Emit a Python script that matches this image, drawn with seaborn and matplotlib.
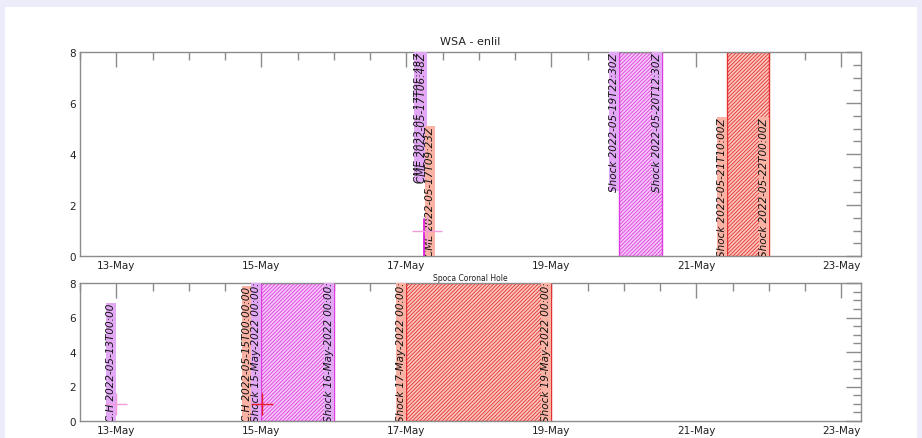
import matplotlib
matplotlib.use("Agg")
import matplotlib.pyplot as plt
import matplotlib.dates as mdates
from matplotlib.patches import Rectangle
from matplotlib.ticker import MultipleLocator
from matplotlib.transforms import ScaledTranslation
import pandas as pd
import seaborn as sns

# ---------------- data ----------------
top_title = "WSA - enlil"
bottom_title = "Spoca Coronal Hole"

x_start = "2022-05-12T12:00"
x_end = "2022-05-23T06:30"

# WSA-enlil events
wsa_cme_times = ["2022-05-17T05:48", "2022-05-17T06:48", "2022-05-17T09:23"]
wsa_cme_labels = ["CME 2022-05-17T05:48Z", "CME 2022-05-17T06:48Z", "CME 2022-05-17T09:23Z"]
wsa_cme_kind = ["violet", "violet", "salmon"]

wsa_shock_times = ["2022-05-19T22:30", "2022-05-20T12:30", "2022-05-21T10:00", "2022-05-22T00:00"]
wsa_shock_labels = ["Shock 2022-05-19T22:30Z", "Shock 2022-05-20T12:30Z",
                    "Shock 2022-05-21T10:00Z", "Shock 2022-05-22T00:00Z"]
wsa_shock_kind = ["violet", "violet", "salmon", "salmon"]

wsa_marker_times = ["2022-05-17T07:00"]
wsa_marker_values = [1.0]
wsa_cme_line_time = "2022-05-17T05:48"
wsa_cme_line_top = 1.45

# Spoca coronal-hole events
ch_times = ["2022-05-13T00:00", "2022-05-15T00:00"]
ch_labels = ["C.H 2022-05-13T00:00", "C.H 2022-05-15T00:00:00"]
ch_kind = ["violet", "salmon"]

ch_shock_times = ["2022-05-15T00:00", "2022-05-16T00:00", "2022-05-17T00:00", "2022-05-19T00:00"]
ch_shock_labels = ["Shock 15-May-2022 00:00:00", "Shock 16-May-2022 00:00:00",
                   "Shock 17-May-2022 00:00:00", "Shock 19-May-2022 00:00:00"]
ch_shock_kind = ["violet", "violet", "salmon", "salmon"]

ch_marker_times = ["2022-05-13T00:00", "2022-05-15T00:20"]
ch_marker_values = [1.0, 1.0]
ch_marker_kind = ["violet", "salmon"]

# ---------------- style ----------------
sns.set_style("white")
plt.rcParams["font.family"] = ["DejaVu Sans"]
plt.rcParams["hatch.linewidth"] = 0.6

LABEL_BG = {"violet": "#e2a8f6", "salmon": "#f9b2a4"}
SPAN_FACE = {"violet": "#f4c8f8", "salmon": "#fac6bc"}
SPAN_EDGE = {"violet": "#e03ce0", "salmon": "#e43030"}
MARK_COL = {"violet": "#f39ad8", "salmon": "#e8202a"}
SPINE = "#8c8c8c"


def ts(s):
    return pd.Timestamp(s)


fig = plt.figure(figsize=(9.22, 4.39), dpi=100)
fig.patch.set_facecolor("#ececfa")
fig.add_artist(Rectangle((5 / 922, 0), 912 / 922, 431 / 439, transform=fig.transFigure,
                         facecolor="white", edgecolor="none", zorder=-10))

ax1 = fig.add_axes([80 / 922, 1 - 257 / 439, 781 / 922, 204 / 439])
ax2 = fig.add_axes([80 / 922, 1 - 422 / 439, 781 / 922, 138 / 439])


def style_axes(ax):
    ax.set_xlim(ts(x_start), ts(x_end))
    ax.set_ylim(0, 8)
    ax.xaxis.set_major_locator(mdates.DayLocator(bymonthday=[13, 15, 17, 19, 21, 23]))
    ax.xaxis.set_minor_locator(mdates.HourLocator(byhour=[0, 12]))
    ax.xaxis.set_major_formatter(mdates.DateFormatter("%d-%b"))
    ax.yaxis.set_major_locator(MultipleLocator(2))
    ax.yaxis.set_minor_locator(MultipleLocator(0.5))
    for sp in ax.spines.values():
        sp.set_visible(True)
        sp.set_color(SPINE)
        sp.set_linewidth(1.0)
    ax.tick_params(which="both", direction="in", top=True, right=True, color=SPINE,
                   labelsize=7.5, labelcolor="#222222")
    ax.tick_params(which="major", length=11, width=1.0, pad=3)
    ax.tick_params(which="minor", length=5.5, width=1.0)
    ax.set_xlabel("")
    ax.set_ylabel("")


def label(ax, t, text, kind, top, dx=0):
    tr = ax.transData + ScaledTranslation(dx / 100, 0, fig.dpi_scale_trans)
    txt = ax.text(mdates.date2num(ts(t)), 8 if top else 0, text, rotation=90,
                  ha="right", va="top" if top else "bottom", fontsize=7.5,
                  style="italic", color="#111111", transform=tr, zorder=5,
                  bbox=dict(boxstyle="square,pad=0", facecolor=LABEL_BG[kind], edgecolor="none"))
    txt.set_clip_on(True)
    txt.set_clip_path(ax.patch)
    return txt


def span(ax, t0, t1, kind):
    ax.axvspan(ts(t0), ts(t1), facecolor=SPAN_FACE[kind], edgecolor=SPAN_EDGE[kind],
               hatch="/////////", linewidth=1.0, zorder=1)


# ---------------- top panel ----------------
span(ax1, wsa_shock_times[0], wsa_shock_times[1], wsa_shock_kind[0])
span(ax1, wsa_shock_times[2], wsa_shock_times[3], wsa_shock_kind[2])

for t, lab, k in zip(wsa_cme_times, wsa_cme_labels, wsa_cme_kind):
    label(ax1, t, lab, k, top=(k == "violet"))
for t, lab, k in zip(wsa_shock_times, wsa_shock_labels, wsa_shock_kind):
    label(ax1, t, lab, k, top=(k == "violet"))

mk = pd.DataFrame({"t": pd.to_datetime(wsa_marker_times), "v": wsa_marker_values})
sns.scatterplot(data=mk, x="t", y="v", marker="+", s=22 ** 2, color=MARK_COL["violet"],
                linewidth=1.0, ax=ax1, zorder=7, legend=False)
ax1.plot([ts(wsa_cme_line_time), ts(wsa_cme_line_time)], [0, wsa_cme_line_top],
         color="#e020e0", lw=1.3, zorder=6)

style_axes(ax1)
ax1.set_title(top_title, fontsize=8, pad=6, color="#222222")

# ---------------- bottom panel ----------------
span(ax2, ch_shock_times[0], ch_shock_times[1], ch_shock_kind[0])
span(ax2, ch_shock_times[2], ch_shock_times[3], ch_shock_kind[2])

label(ax2, ch_times[0], ch_labels[0], ch_kind[0], top=False)
label(ax2, ch_times[1], ch_labels[1], ch_kind[1], top=False, dx=-9)
for t, lab, k in zip(ch_shock_times, ch_shock_labels, ch_shock_kind):
    label(ax2, t, lab, k, top=False)

mk2 = pd.DataFrame({"t": pd.to_datetime(ch_marker_times), "v": ch_marker_values, "k": ch_marker_kind})
sns.scatterplot(data=mk2, x="t", y="v", hue="k", palette=MARK_COL, marker="+", s=16 ** 2,
                linewidth=1.0, ax=ax2, zorder=7, legend=False)

style_axes(ax2)
ax2.set_title(bottom_title, fontsize=5.5, pad=2, color="#222222")

fig.savefig("out.png", dpi=100, facecolor=fig.get_facecolor())
